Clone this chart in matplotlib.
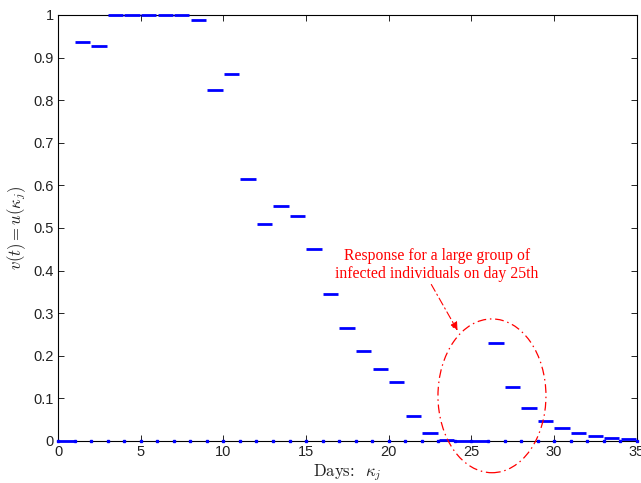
import matplotlib
matplotlib.use('Agg')
import matplotlib.pyplot as plt
from matplotlib.patches import Ellipse

plt.rcParams['mathtext.fontset'] = 'cm'
plt.rcParams['font.family'] = ['Liberation Sans', 'DejaVu Sans']

# control value u(kappa_j) on each day interval [j, j+1)
days = list(range(0, 35))
u_vals = [0.0, 0.937, 0.926, 1.0, 1.0, 1.0, 1.0, 1.0, 0.988, 0.824,
          0.861, 0.614, 0.509, 0.552, 0.529, 0.450, 0.345, 0.265, 0.211, 0.169,
          0.138, 0.059, 0.018, 0.002, 0.0, 0.0, 0.229, 0.126, 0.077, 0.048,
          0.030, 0.019, 0.012, 0.008, 0.004]
# sample instants on the axis
grid_days = list(range(0, 36))
grid_vals = [0.0] * len(grid_days)

x_ticks = list(range(0, 36, 5))
y_ticks = [0, 0.1, 0.2, 0.3, 0.4, 0.5, 0.6, 0.7, 0.8, 0.9, 1]
y_ticklabels = ['0', '0.1', '0.2', '0.3', '0.4', '0.5', '0.6', '0.7', '0.8', '0.9', '1']

fig = plt.figure(figsize=(6.41, 4.83), dpi=100)
ax = fig.add_axes([0.0905, 0.087, 0.903, 0.882])

starts = [d + 0.02 for d in days]
ends = [d + 0.95 for d in days]
ax.hlines(u_vals, starts, ends, colors='#0000ff', linewidth=2.0, capstyle='butt', clip_on=False, zorder=3)
ax.plot(grid_days, grid_vals, linestyle='none', marker='s', markersize=2.0,
        color='#0000ff', clip_on=False, zorder=3)

ax.set_xlim(0, 35)
ax.set_ylim(0, 1)
ax.set_xticks(x_ticks)
ax.set_yticks(y_ticks)
ax.set_yticklabels(y_ticklabels)
ax.tick_params(direction='in', top=True, right=True, length=4, width=0.6,
               labelsize=10.5, pad=3, labelcolor='#222222')
for sp in ax.spines.values():
    sp.set_linewidth(0.8)

ax.set_xlabel(r'Days:  $\kappa_j$', fontsize=12, labelpad=2, color='#222222',
              family=['cmr10', 'DejaVu Serif'])
ax.set_ylabel(r'$v(t) = u(\kappa_j)$', fontsize=12, labelpad=4, color='#222222')

# annotation
dashdot = (0, (7, 3, 1.2, 3))
ax.text(22.9, 0.413, 'Response for a large group of\ninfected individuals on day 25th',
        color='red', fontsize=11.3, family=['Liberation Serif'], ha='center', va='center',
        linespacing=1.15)
ax.annotate('', xy=(24.24, 0.2535), xytext=(22.49, 0.373),
            arrowprops=dict(arrowstyle='-|>', color='red', lw=0.8, linestyle=dashdot,
                            mutation_scale=12))
ell = Ellipse((26.24, 0.106), 6.53, 0.361, fill=False, edgecolor='red', lw=0.9,
              linestyle=dashdot, clip_on=False, zorder=4)
ax.add_patch(ell)

fig.savefig('out.png', dpi=100)
